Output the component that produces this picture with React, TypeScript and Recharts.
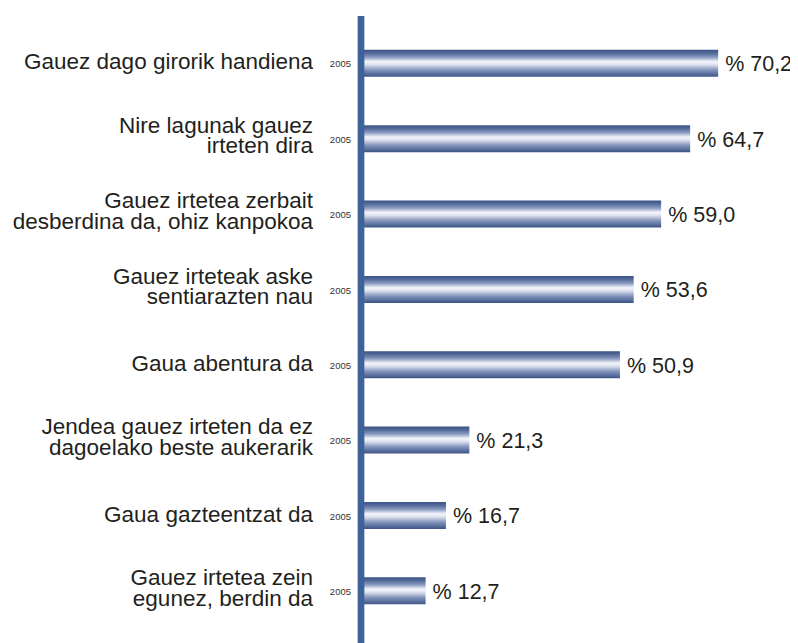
import React from 'react';
import { BarChart, Bar, XAxis, YAxis, LabelList } from 'recharts';

const categories = [
  'Gauez dago girorik handiena',
  'Nire lagunak gauez\nirteten dira',
  'Gauez irtetea zerbait\ndesberdina da, ohiz kanpokoa',
  'Gauez irteteak aske\nsentiarazten nau',
  'Gaua abentura da',
  'Jendea gauez irteten da ez\ndagoelako beste aukerarik',
  'Gaua gazteentzat da',
  'Gauez irtetea zein\negunez, berdin da',
];
const values2005 = [70.2, 64.7, 59.0, 53.6, 50.9, 21.3, 16.7, 12.7];
const yearLabel = '2005';
const xDomain = [0, 80];

const data = categories.map((name, i) => ({ name, value: values2005[i] }));

const FONT = '"Liberation Sans", Arial, Helvetica, sans-serif';
const TEXT = '#231f20';

const CatTick = (props: any) => {
  const { x, y, payload } = props;
  const lines: string[] = String(payload.value).split('\n');
  const right = x - 48;
  return (
    <g>
      {lines.length === 1 ? (
        <text x={right} y={y + 6} textAnchor="end" fontSize={22.5} fontFamily={FONT} fill={TEXT}>
          {lines[0]}
        </text>
      ) : (
        <text textAnchor="end" fontSize={22.5} fontFamily={FONT} fill={TEXT}>
          <tspan x={right} y={y - 6}>{lines[0]}</tspan>
          <tspan x={right} y={y + 14.5}>{lines[1]}</tspan>
        </text>
      )}
      <text x={x - 10} y={y + 4} textAnchor="end" fontSize={9.5} fontFamily={FONT} fill="#333">
        {yearLabel}
      </text>
    </g>
  );
};

const ValueLabel = (props: any) => {
  const { x, y, width, height, value } = props;
  const txt = '% ' + Number(value).toFixed(1).replace('.', ',');
  return (
    <text x={x + width + 7} y={y + height / 2 + 8} fontSize={21.5} fontFamily={FONT} fill={TEXT}>
      {txt}
    </text>
  );
};

export default function App() {
  return (
    <BarChart
      width={790}
      height={640}
      data={data}
      layout="vertical"
      margin={{ top: 8, right: 30, bottom: 0, left: 0 }}
    >
      <defs>
        <linearGradient id="barGrad" x1="0" y1="0" x2="0" y2="1">
          <stop offset="0%" stopColor="#3b5486" />
          <stop offset="12%" stopColor="#52699a" />
          <stop offset="28%" stopColor="#8d9dc2" />
          <stop offset="44%" stopColor="#f3f5fa" />
          <stop offset="55%" stopColor="#dde2ee" />
          <stop offset="75%" stopColor="#8294bb" />
          <stop offset="100%" stopColor="#3b5486" />
        </linearGradient>
      </defs>
      <XAxis type="number" domain={xDomain} hide />
      <Bar dataKey="value" barSize={27} fill="url(#barGrad)" isAnimationActive={false}>
        <LabelList dataKey="value" content={<ValueLabel />} />
      </Bar>
      <YAxis
        type="category"
        dataKey="name"
        width={353}
        interval={0}
        axisLine={{ stroke: '#3f6399', strokeWidth: 6.7 }}
        tickLine={false}
        tickSize={0}
        tickMargin={0}
        tick={<CatTick />}
        padding={{ top: 9.8, bottom: 19.3 }}
      />
    </BarChart>
  );
}
